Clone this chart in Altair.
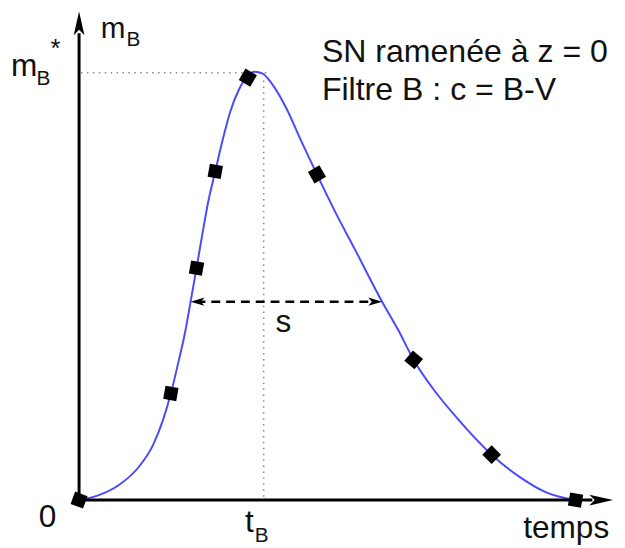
import altair as alt
import pandas as pd

# Light curve (time, magnitude-like brightness)
curve_t = [0, 2, 4, 6, 7.5, 8.5, 9.3, 10, 10.7, 11.3, 11.9, 12.5, 13.1, 13.8, 14.5, 15.3,
           16.2, 17, 17.8, 18.6, 19.6, 21, 22.5, 24.1, 26, 28, 30.7, 32.3, 33.9, 36, 38.3,
           41.8, 44.7, 47.5, 50.3]
curve_m = [0, 0.5, 1.5, 3.3, 5.6, 8.1, 10.8, 13.7, 16.8, 20.1, 23.5, 27, 30.3, 33.3, 36.3, 39.3,
           41.6, 42.9, 43.4, 43.2, 42.1, 39.7, 36.4, 33, 29.1, 25.3, 20.1, 17.3, 14.2, 11.1, 8.3,
           4.6, 2.3, 0.7, 0]

# Measured points
obs_t = [0, 9.3, 11.9, 13.8, 17.1, 24.1, 33.9, 41.8, 50.3]
obs_m = [0, 10.8, 23.5, 33.3, 42.8, 33, 14.2, 4.6, 0]
obs_angle = [20, 10, 10, 10, 30, 330, 40, 45, 10]

# Key quantities
t_peak = 18.7
m_peak = 43.3
s_left = 11.3
s_right = 30.7
s_level = 20.1

XD = [-7.2, 54.5]
YD = [-4.5, 49.5]
FONT = "Liberation Sans"


def X(field="x"):
    return alt.X(f"{field}:Q", scale=alt.Scale(domain=XD), axis=None)


def Y(field="y"):
    return alt.Y(f"{field}:Q", scale=alt.Scale(domain=YD), axis=None)


def X2(field="x2"):
    return alt.X2(f"{field}:Q")


def Y2(field="y2"):
    return alt.Y2(f"{field}:Q")


ARROW = "M0,-1 L0.45,1 L0,0.55 L-0.45,1 Z"
SMALL_ARROW = "M0,-1 L0.6,1 L0,0.5 L-0.6,1 Z"

curve_df = pd.DataFrame({"x": curve_t, "y": curve_m})
obs_df = pd.DataFrame({"x": obs_t, "y": obs_m, "a": obs_angle})

# axes
axes_df = pd.DataFrame({"x": [0, 0], "y": [0, 0], "x2": [0, 52.0], "y2": [47.3, 0]})
axes = alt.Chart(axes_df).mark_rule(color="black", strokeWidth=3).encode(
    x=X(), y=Y(), x2=X2(), y2=Y2())
heads_df = pd.DataFrame({"x": [0, 52.9], "y": [48.3, 0], "a": [0, 90]})
heads = alt.Chart(heads_df).mark_point(shape=ARROW, filled=True, color="black", opacity=1,
                                       size=576, strokeWidth=0).encode(
    x=X(), y=Y(), angle=alt.Angle("a:Q", scale=None))

# dotted guides
dots_df = pd.DataFrame({"x": [0.2, t_peak], "y": [m_peak, m_peak - 0.8],
                        "x2": [19.0, t_peak], "y2": [m_peak, 0]})
dots = alt.Chart(dots_df).mark_rule(color="#8a8a8a", strokeWidth=1.6, strokeDash=[1.5, 4.5]).encode(
    x=X(), y=Y(), x2=X2(), y2=Y2())

# curve
line = alt.Chart(curve_df).mark_line(color="#4a4aff", strokeWidth=2, interpolate="monotone").encode(
    x=X(), y=Y())

# markers
pts = alt.Chart(obs_df).mark_point(shape="square", filled=True, color="black", opacity=1,
                                   size=180).encode(
    x=X(), y=Y(), angle=alt.Angle("a:Q", scale=None))

# stretch arrow
s_df = pd.DataFrame({"x": [s_left + 0.6], "y": [s_level], "x2": [s_right - 0.6], "y2": [s_level]})
s_line = alt.Chart(s_df).mark_rule(color="black", strokeWidth=2.5, strokeDash=[9, 6]).encode(
    x=X(), y=Y(), x2=X2())
s_heads_df = pd.DataFrame({"x": [s_left + 0.7, s_right - 0.7], "y": [s_level, s_level], "a": [270, 90]})
s_heads = alt.Chart(s_heads_df).mark_point(shape=SMALL_ARROW, filled=True, color="black", opacity=1,
                                           size=196, strokeWidth=0).encode(
    x=X(), y=Y(), angle=alt.Angle("a:Q", scale=None))

# texts
top_m = alt.Chart(pd.DataFrame({"x": [2.2], "y": [46.8], "t": ["m"]})).mark_text(
    font=FONT, fontSize=30, align="left", baseline="alphabetic", color="#111").encode(
    x=X(), y=Y(), text="t:N")
big_txt = ["m", "0", "t", "s", "temps"]
big_x = [-6.9, -3.2, 16.8, 20.7, 45.0]
big_y = [43.0, -2.7, -3.2, 17.0, -3.8]
big_align = ["left", "center", "left", "center", "left"]
sub_txt = ["B", "B", "B"]
sub_x = [4.8, -4.3, 17.8]
sub_y = [46.0, 42.1, -4.2]
note_txt = ["SN ramenée à z = 0", "Filtre B : c = B-V"]
note_x = [24.6, 24.6]
note_y = [44.4, 40.5]

big_df = pd.DataFrame({"x": big_x, "y": big_y, "t": big_txt, "al": big_align})
layers_txt = []
for al in ["left", "center"]:
    d = big_df[big_df["al"] == al]
    layers_txt.append(alt.Chart(d).mark_text(font=FONT, fontSize=32, align=al, baseline="alphabetic",
                                             color="#111").encode(x=X(), y=Y(), text="t:N"))
sub = alt.Chart(pd.DataFrame({"x": sub_x, "y": sub_y, "t": sub_txt})).mark_text(
    font=FONT, fontSize=21, align="left", baseline="alphabetic", color="#111").encode(
    x=X(), y=Y(), text="t:N")
star = alt.Chart(pd.DataFrame({"x": [-2.9], "y": [44.9], "t": ["*"]})).mark_text(
    font=FONT, fontSize=26, align="left", baseline="alphabetic", color="#111").encode(
    x=X(), y=Y(), text="t:N")
notes = alt.Chart(pd.DataFrame({"x": note_x, "y": note_y, "t": note_txt})).mark_text(
    font=FONT, fontSize=32.5, align="left", baseline="alphabetic", color="#111").encode(
    x=X(), y=Y(), text="t:N")

chart = alt.layer(dots, line, axes, heads, s_line, s_heads, pts, top_m, *layers_txt, sub, star,
                  notes).properties(
    width=617, height=540, padding=0, autosize="none"
).configure_view(stroke=None)

chart.save("out.html", embed_options={"renderer": "svg", "actions": False})
